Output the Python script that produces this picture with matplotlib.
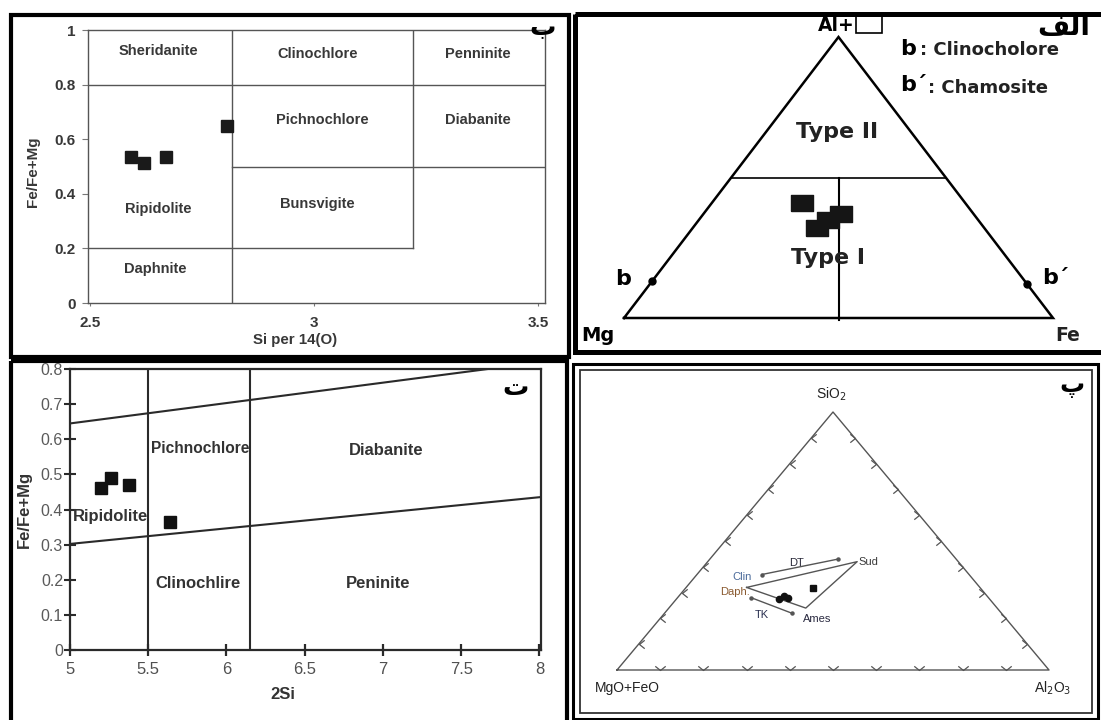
import matplotlib
matplotlib.use('Agg')
import matplotlib.pyplot as plt
from matplotlib.patches import Rectangle

plt.rcParams['font.family'] = ['Liberation Sans', 'DejaVu Sans']

W, H = 1101, 720

# ---- panel "ب" : Hey diagram, Si per 14(O) vs Fe/Fe+Mg
hey_si = [2.59, 2.62, 2.67, 2.805]
hey_fe = [0.535, 0.513, 0.535, 0.648]
hey_names = ['Sheridanite', 'Clinochlore', 'Penninite', 'Pichnochlore',
             'Diabanite', 'Bunsvigite', 'Ripidolite', 'Daphnite']
hey_name_x = [2.652, 3.008, 3.366, 3.017, 3.366, 3.006, 2.651, 2.645]
hey_name_y = [0.924, 0.912, 0.912, 0.670, 0.670, 0.363, 0.344, 0.125]
hey_xticks = [2.5, 3, 3.5]
hey_xlabels = ['2.5', '3', '3.5']
hey_yticks = [0, 0.2, 0.4, 0.6, 0.8, 1]
hey_ylabels = ['0', '0.2', '0.4', '0.6', '0.8', '1']
# boundaries: (level, start, end)
hey_hlines = [(0.8, 2.495, 3.515), (0.5, 2.817, 3.515), (0.2, 2.495, 3.22)]
hey_vlines = [(2.817, 0, 1), (3.22, 0.2, 1)]

# ---- panel "ت" : 2Si vs Fe/Fe+Mg
zane_si = [5.2, 5.26, 5.38, 5.64]
zane_fe = [0.46, 0.49, 0.47, 0.365]
zane_names = ['Pichnochlore', 'Diabanite', 'Ripidolite', 'Clinochlire', 'Peninite']
zane_name_x = [5.83, 7.02, 5.26, 5.82, 6.97]
zane_name_y = [0.575, 0.567, 0.379, 0.188, 0.19]
zane_upper = ([5, 7.67], [0.645, 0.8])
zane_lower = ([5, 8], [0.302, 0.435])
zane_vlines = [5.5, 6.15]
zane_xticks = [5, 5.5, 6, 6.5, 7, 7.5, 8]
zane_xlabels = ['5', '5.5', '6', '6.5', '7', '7.5', '8']
zane_yticks = [0, 0.1, 0.2, 0.3, 0.4, 0.5, 0.6, 0.7, 0.8]
zane_ylabels = ['0', '0.1', '0.2', '0.3', '0.4', '0.5', '0.6', '0.7', '0.8']

# ---- panel "الف" : Al+vacancy / Mg / Fe ternary
alv_al = [0.41, 0.37, 0.35, 0.32]
alv_fe = [0.21, 0.32, 0.30, 0.29]
b_al, b_fe = 0.13, 0.0          # clinochlore end member
bp_al, bp_fe = 0.12, 0.88       # chamosite end member

# ---- panel "پ" : SiO2 / MgO+FeO / Al2O3 ternary
sio2_pts = [0.275, 0.287, 0.279]
al2o3_pts = [0.238, 0.243, 0.256]
sio2_sq, al2o3_sq = 0.318, 0.295
ref_names = ['Daph', 'Sud', 'Ames']
ref_sio2 = [0.32, 0.42, 0.24]
ref_al2o3 = [0.14, 0.346, 0.317]
dt_sio2 = [0.37, 0.43]
dt_al2o3 = [0.15, 0.297]
tk_sio2 = [0.28, 0.22]
tk_al2o3 = [0.171, 0.295]
tern_ticks = [0.1, 0.2, 0.3, 0.4, 0.5, 0.6, 0.7, 0.8, 0.9]


def tern(top, right):
    # left vertex (0,0), right vertex (1,0), apex (0.5,1)
    top = list(top) if hasattr(top, '__len__') else [top]
    right = list(right) if hasattr(right, '__len__') else [right]
    return [r + t / 2 for t, r in zip(top, right)], top


fig = plt.figure(figsize=(W / 100, H / 100), dpi=100)


def px_axes(x0, y0, x1, y1):
    ax = fig.add_axes([x0 / W, 1 - y1 / H, (x1 - x0) / W, (y1 - y0) / H])
    ax.set_facecolor('none')
    return ax


# panel borders
bg = px_axes(0, 0, W, H)
bg.set_xlim(0, W)
bg.set_ylim(H, 0)
bg.axis('off')
borders = [(11, 15, 569, 357, 3.0, 'black'), (575, 14, 1106, 352, 3.6, 'black'),
           (11, 361, 567, 724, 3.0, 'black'), (573, 364, 1098, 719, 2.2, 'black'),
           (580, 370, 1092, 713, 1.3, '#333333')]
for x0, y0, x1, y1, lw, col in borders:
    bg.add_patch(Rectangle((x0, y0), x1 - x0, y1 - y0, fill=False, lw=lw, ec=col))

# ================= panel ب =================
ax1 = px_axes(88, 30, 545, 303)
ax1.set_xlim(2.495, 3.515)
ax1.set_ylim(0, 1)
for sp in ax1.spines.values():
    sp.set_color('#555555')
    sp.set_linewidth(1.0)
for lev, a, b in hey_hlines:
    ax1.plot([a, b], [lev, lev], color='#555555', lw=1.0)
for xv, a, b in hey_vlines:
    ax1.plot([xv, xv], [a, b], color='#555555', lw=1.0)
ax1.plot(hey_si, hey_fe, 's', color='#1a1a1a', ms=9)
for name, x, y in zip(hey_names, hey_name_x, hey_name_y):
    ax1.text(x, y, name, ha='center', va='center', fontsize=10.5,
             fontweight='bold', color='#383838')
ax1.set_xticks(hey_xticks)
ax1.set_xticklabels(hey_xlabels, fontweight='bold', color='#383838')
ax1.set_yticks(hey_yticks)
ax1.set_yticklabels(hey_ylabels, fontweight='bold', color='#383838')
ax1.tick_params(axis='x', length=2, color='#777777', labelsize=11, pad=7)
ax1.tick_params(axis='y', length=4, color='#777777', labelsize=11, pad=5)
ax1.set_xlabel('Si per 14(O)', fontsize=10.8, fontweight='bold', color='#383838')
ax1.xaxis.set_label_coords(0.453, -0.11)
ax1.set_ylabel('Fe/Fe+Mg', fontsize=11, fontweight='bold', color='#383838')
ax1.yaxis.set_label_coords(-0.105, 0.48)

# ================= panel ت =================
ax3 = px_axes(70, 369, 541, 650)
ax3.set_xlim(5, 8.01)
ax3.set_ylim(0, 0.8)
for sp in ax3.spines.values():
    sp.set_color('#2a2a2a')
    sp.set_linewidth(1.6)
ax3.plot(*zane_upper, color='#2a2a2a', lw=1.5)
ax3.plot(*zane_lower, color='#2a2a2a', lw=1.5)
for xv in zane_vlines:
    ax3.axvline(xv, color='#2a2a2a', lw=1.5)
ax3.plot(zane_si, zane_fe, 's', color='#111111', ms=9)
for name, x, y in zip(zane_names, zane_name_x, zane_name_y):
    ax3.text(x, y, name, ha='center', va='center',
             fontsize=11.2 if name == 'Pichnochlore' else 12,
             fontweight='bold', color='#333333')
ax3.set_xticks(zane_xticks)
ax3.set_xticklabels(zane_xlabels, color='#505050')
ax3.set_yticks(zane_yticks)
ax3.set_yticklabels(zane_ylabels, color='#5a5a5a')
ax3.tick_params(axis='x', direction='inout', length=9, width=1.6,
                color='#2a2a2a', labelsize=12, pad=4)
ax3.tick_params(axis='y', direction='inout', length=8, width=1.5,
                color='#2a2a2a', labelsize=11.5, pad=1)
ax3.set_xlabel('2Si', fontsize=12, fontweight='bold', color='#333333')
ax3.xaxis.set_label_coords(0.452, -0.13)
ax3.set_ylabel('Fe/Fe+Mg', fontsize=12, fontweight='bold', color='#333333')
ax3.yaxis.set_label_coords(-0.081, 0.5)

# ================= panel الف =================
dv = ['DejaVu Sans']
ax2 = px_axes(624, 37, 1053, 318)
ax2.set_xlim(0, 1)
ax2.set_ylim(0, 1)
ax2.axis('off')
ax2.plot([0, 1, 0.5, 0], [0, 0, 1, 0], color='black', lw=1.8, clip_on=False,
         solid_joinstyle='miter')
ax2.plot([0.25, 0.75], [0.5, 0.5], color='black', lw=1.2)
ax2.plot([0.5, 0.5], [0.5, -0.007], color='black', lw=1.5, clip_on=False)
rect_marker = [(-1, -0.68), (1, -0.68), (1, 0.68), (-1, 0.68), (-1, -0.68)]
px, py = tern(alv_al, alv_fe)
ax2.plot(px, py, linestyle='none', marker=rect_marker, ms=16,
         color='#151515', zorder=5)
bx, by = tern(b_al, b_fe)
ax2.plot(bx, by, 'o', color='black', ms=5, zorder=5)
bx, by = tern(bp_al, bp_fe)
ax2.plot(bx, by, 'o', color='black', ms=5, zorder=5)
ax2.text(0.538, 1.042, 'Al+', ha='right', va='center', fontsize=13.5,
         fontweight='bold', family=dv, clip_on=False)
ax2.add_patch(Rectangle((0.541, 1.014), 0.061, 0.061, fill=False, lw=1.2,
                        ec='black', clip_on=False))
ax2.text(0.643, 0.957, 'b', ha='left', va='center', fontsize=16,
         fontweight='bold', family=dv)
ax2.text(0.691, 0.953, ': Clinocholore', ha='left', va='center', fontsize=13,
         fontweight='bold', color='#222222', family=dv)
ax2.text(0.643, 0.829, 'b\u00b4', ha='left', va='center', fontsize=16,
         fontweight='bold', family=dv)
ax2.text(0.708, 0.818, ': Chamosite', ha='left', va='center', fontsize=13,
         fontweight='bold', color='#222222', family=dv)
ax2.text(0.497, 0.661, 'Type II', ha='center', va='center', fontsize=16,
         fontweight='bold', color='#222222', family=dv)
ax2.text(0.475, 0.214, 'Type I', ha='center', va='center', fontsize=16,
         fontweight='bold', color='#222222', family=dv)
ax2.text(-0.002, 0.139, 'b', ha='center', va='center', fontsize=16,
         fontweight='bold', family=dv)
ax2.text(0.975, 0.143, 'b\u00b4', ha='left', va='center', fontsize=16,
         fontweight='bold', family=dv)
ax2.text(-0.06, -0.061, 'Mg', ha='center', va='center', fontsize=14,
         fontweight='bold', family=dv)
ax2.text(1.035, -0.061, 'Fe', ha='center', va='center', fontsize=13.5,
         fontweight='bold', color='#222222', family=dv)

# ================= panel پ =================
ax4 = px_axes(617, 412, 1049, 670)
ax4.set_xlim(0, 1)
ax4.set_ylim(0, 1)
ax4.axis('off')
grey = '#555555'
ax4.plot([0, 1, 0.5, 0], [0, 0, 1, 0], color=grey, lw=1.0, clip_on=False)
v_mark = [(-1, 0.8), (0, 0), (1, 0.8)]
l_mark = [(1, 0.8), (0, 0), (1, -0.8)]
r_mark = [(-1, 0.8), (0, 0), (-1, -0.8)]
ax4.plot(tern_ticks, [0] * len(tern_ticks), linestyle='none', marker=v_mark,
         ms=7.5, mfc='none', mec=grey, mew=0.9, clip_on=False)
tx, ty = tern(tern_ticks, [0] * len(tern_ticks))
ax4.plot(tx, ty, linestyle='none', marker=l_mark, ms=7.5, mfc='none', mec=grey,
         mew=0.9, clip_on=False)
tx, ty = tern(tern_ticks, [1 - t for t in tern_ticks])
ax4.plot(tx, ty, linestyle='none', marker=r_mark, ms=7.5, mfc='none', mec=grey,
         mew=0.9, clip_on=False)

rx, ry = tern(ref_sio2, ref_al2o3)
ax4.plot(rx + rx[:1], ry + ry[:1], color=grey, lw=1.0)
dx, dy = tern(dt_sio2, dt_al2o3)
ax4.plot(dx, dy, color=grey, lw=1.0, marker='o', ms=2.2)
kx, ky = tern(tk_sio2, tk_al2o3)
ax4.plot(kx, ky, color=grey, lw=1.0, marker='o', ms=2.2)
qx, qy = tern(sio2_pts, al2o3_pts)
ax4.plot(qx, qy, 'o', color='#111111', ms=4.5)
sx, sy = tern(sio2_sq, al2o3_sq)
ax4.plot(sx, sy, 's', color='#111111', ms=5)

ax4.text(0.583, 0.42, 'Sud', ha='center', va='center', fontsize=8, color='#3a3a3a')
ax4.text(0.415, 0.415, 'DT', ha='center', va='center', fontsize=8, color='#2a2a3a')
ax4.text(0.29, 0.36, 'Clin', ha='center', va='center', fontsize=8, color='#4a6a9a')
ax4.text(0.272, 0.302, 'Daph.', ha='center', va='center', fontsize=8, color='#8a5a30')
ax4.text(0.336, 0.213, 'TK', ha='center', va='center', fontsize=8, color='#2a3050')
ax4.text(0.463, 0.198, 'Ames', ha='center', va='center', fontsize=8, color='#2a2a40')
ax4.text(0.495, 1.068, 'SiO$_2$', ha='center', va='center', fontsize=10, color='#222222')
ax4.text(0.025, -0.07, 'MgO+FeO', ha='center', va='center', fontsize=10, color='#222222')
ax4.text(1.009, -0.07, 'Al$_2$O$_3$', ha='center', va='center', fontsize=10, color='#222222')

# panel letters (presentation forms so the letters join right to left)
fig.text(543 / W, 1 - 28 / H, '\u0628', ha='center', va='center', fontsize=19,
         fontweight='bold', family=dv)
fig.text(1064 / W, 1 - 27 / H, '\ufed2\ufedf\ufe8d', ha='center', va='center',
         fontsize=20, fontweight='bold', family=dv)
fig.text(516 / W, 1 - 388 / H, '\u062a', ha='center', va='center', fontsize=19,
         fontweight='bold', family=dv)
fig.text(1072 / W, 1 - 386 / H, '\u067e', ha='center', va='center', fontsize=18,
         fontweight='bold', family=dv)

fig.savefig('out.png', dpi=100, facecolor='white')
